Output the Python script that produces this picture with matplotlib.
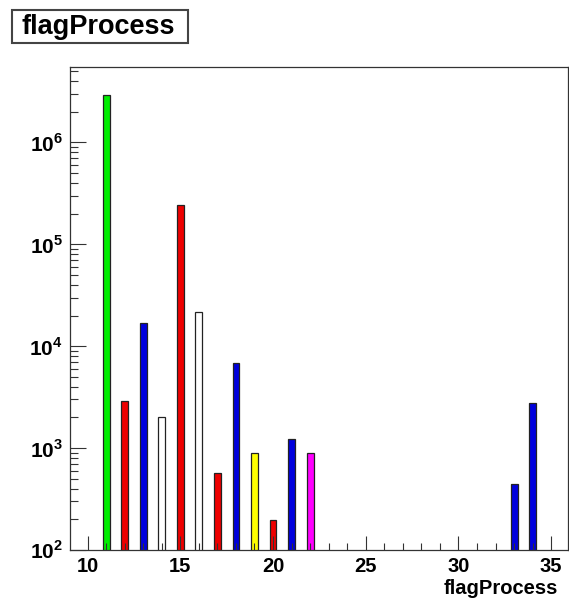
import numpy as np
import matplotlib.pyplot as plt
from matplotlib.ticker import LogLocator, FixedLocator, NullFormatter
from matplotlib.patches import Rectangle

plt.rcParams['font.family'] = 'Liberation Sans'
plt.rcParams['font.weight'] = 'bold'
plt.rcParams['mathtext.fontset'] = 'custom'
plt.rcParams['mathtext.rm'] = 'Liberation Sans:bold'
plt.rcParams['mathtext.bf'] = 'Liberation Sans:bold'

# flagProcess bins and counts
flags = [11, 12, 13, 14, 15, 16, 17, 18, 19, 20, 21, 22, 33, 34]
counts = [2.95e6, 2.9e3, 1.7e4, 2.0e3, 2.45e5, 2.15e4, 570, 6.8e3, 890, 197, 1.22e3, 890, 440, 2.75e3]
colors = ['#00ee00', '#ee0000', '#0000dd', 'white', '#ee0000', 'white', '#ee0000',
          '#0000dd', '#ffff00', '#ee0000', '#0000dd', '#ff00ff', '#0000dd', '#0000dd']

W, H = 569, 599
fig = plt.figure(figsize=(W / 100, H / 100), dpi=100)
ax = fig.add_axes([0.123, 0.082, 0.875, 0.806])

ax.bar(flags, counts, width=0.37, color=colors, edgecolor='#222222', linewidth=0.9)
ax.set_yscale('log')
ax.set_ylim(100, 5.5e6)
ax.set_xlim(9.05, 35.9)

ax.xaxis.set_major_locator(FixedLocator([10, 15, 20, 25, 30, 35]))
ax.xaxis.set_minor_locator(FixedLocator(np.arange(10, 36)))
ax.yaxis.set_minor_locator(LogLocator(base=10, subs=np.arange(2, 10), numticks=10))
ax.yaxis.set_minor_formatter(NullFormatter())
ax.set_yticks([1e2, 1e3, 1e4, 1e5, 1e6])
ax.set_yticklabels([r'$10^{%d}$' % k for k in range(2, 7)])

ax.tick_params(axis='both', which='both', direction='in', top=False, right=False,
               color='#333333', width=0.8)
ax.tick_params(axis='x', which='major', length=10, labelsize=14.5, pad=5)
ax.tick_params(axis='x', which='minor', length=5)
ax.tick_params(axis='y', which='major', length=11.5, labelsize=15, pad=5)
ax.tick_params(axis='y', which='minor', length=6)
for lab in ax.get_xticklabels():
    lab.set_fontweight('bold')

for sp in ax.spines.values():
    sp.set_color('#333333')
    sp.set_linewidth(0.9)

ax.set_xlabel('flagProcess', fontsize=14.5, fontweight='bold', ha='right', va='top')
ax.xaxis.set_label_coords(0.98, -0.06)

# title box
fig.add_artist(Rectangle((12 / W, 1 - 43 / H), 176 / W, 33 / H, transform=fig.transFigure,
                         facecolor='white', edgecolor='#444444', linewidth=1.5))
fig.text(21 / W, 1 - 27 / H, 'flagProcess', fontsize=19.5, fontweight='bold', va='center', ha='left')

fig.savefig('out.png', dpi=100)
